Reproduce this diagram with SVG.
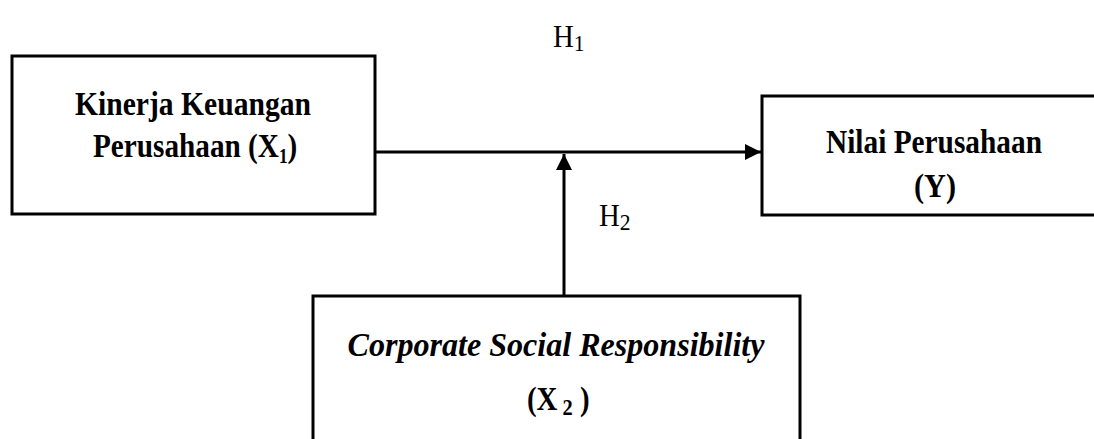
<svg xmlns="http://www.w3.org/2000/svg" width="1094" height="439" viewBox="0 0 1094 439">
<style>
.box{fill:#fff;stroke:#000;stroke-width:3}
.t{font-family:"Liberation Serif","Times New Roman",serif;font-weight:bold;font-size:34px;fill:#000}
.h{font-family:"Liberation Serif","Times New Roman",serif;font-size:32px;fill:#000}
.line{stroke:#000;stroke-width:3;fill:none}
</style>
<defs>
<marker id="arr" viewBox="0 0 10 10" refX="10" refY="5" markerWidth="17" markerHeight="16" markerUnits="userSpaceOnUse" orient="auto">
<path d="M0,0 L10,5 L0,10 z" fill="#000"/>
</marker>
</defs>
<rect width="1094" height="439" fill="#fff"/>
<g id="connectors">
<line class="line" x1="375" y1="152" x2="761" y2="152" marker-end="url(#arr)"/>
<line class="line" x1="564" y1="297" x2="564" y2="154" marker-end="url(#arr)"/>
</g>
<g id="node-x1">
<rect class="box" x="12" y="56" width="363" height="158"/>
<text class="t" x="193" y="115" text-anchor="middle" textLength="236" lengthAdjust="spacingAndGlyphs">Kinerja Keuangan</text>
<text class="t" transform="translate(93,157) scale(0.86,1)" x="0" y="0">Perusahaan (X<tspan font-size="20" dy="6">1</tspan><tspan dy="-6">)</tspan></text>
</g>
<g id="node-y">
<rect class="box" x="762" y="96" width="400" height="119"/>
<text class="t" x="934" y="153" text-anchor="middle" textLength="216" lengthAdjust="spacingAndGlyphs">Nilai Perusahaan</text>
<text class="t" x="935" y="197" text-anchor="middle" textLength="42" lengthAdjust="spacingAndGlyphs">(Y)</text>
</g>
<g id="node-x2">
<rect class="box" x="313" y="296" width="487" height="170"/>
<text class="t" x="556" y="356" text-anchor="middle" font-style="italic" textLength="417" lengthAdjust="spacingAndGlyphs">Corporate Social Responsibility</text>
<text class="t" transform="translate(527,410) scale(0.85,1)" x="0" y="0">(X<tspan font-size="24" dy="5"> 2</tspan><tspan dy="-5"> )</tspan></text>
</g>
<g id="labels">
<text class="h" transform="translate(553,47) scale(0.9,1)" x="0" y="0">H<tspan font-size="24" dy="4">1</tspan></text>
<text class="h" transform="translate(599,226) scale(0.9,1)" x="0" y="0">H<tspan font-size="24" dy="4">2</tspan></text>
</g>
</svg>
